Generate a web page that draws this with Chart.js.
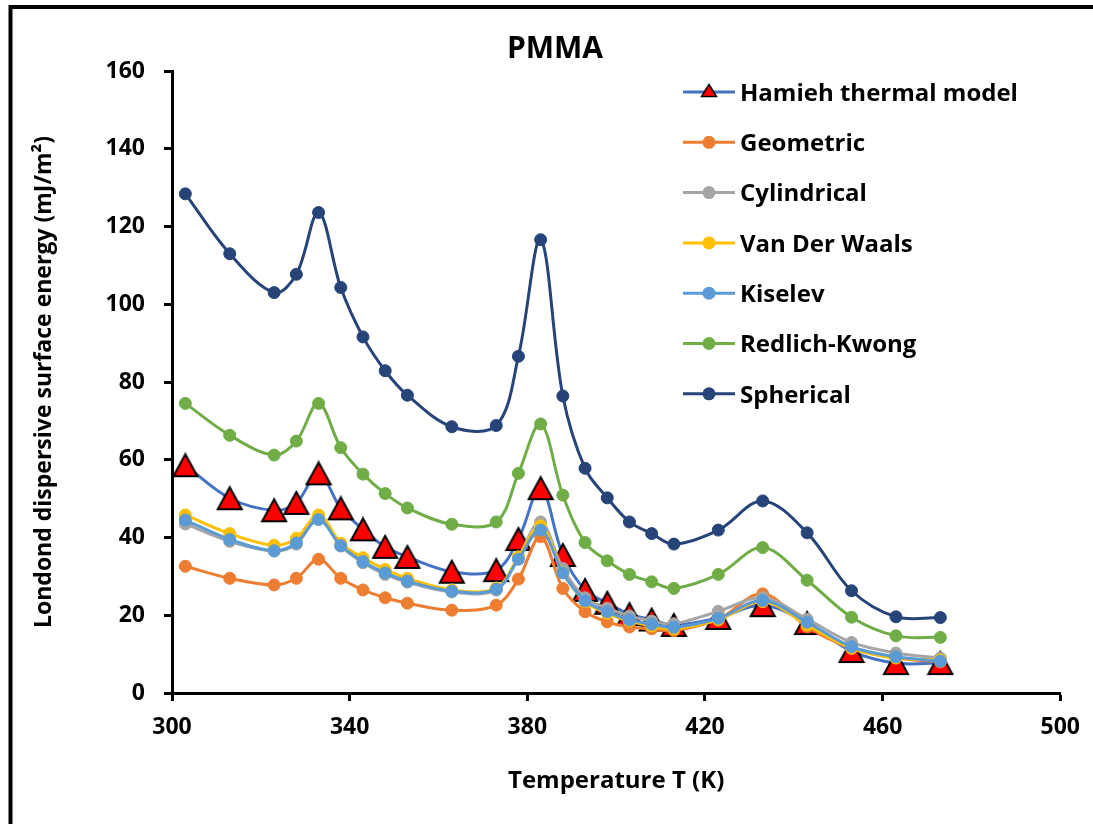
<!DOCTYPE html>
<html><head><meta charset="utf-8">
<script src="https://cdn.jsdelivr.net/npm/chart.js@4.4.1/dist/chart.umd.min.js"></script>
<style>html,body{margin:0;padding:0;background:#fff;} #wrap{width:1093px;height:824px;position:relative;}</style>
</head><body><div id="wrap"><canvas id="c" width="1093" height="824"></canvas></div>
<script>
const temperatures = [303,313,323,328,333,338,343,348,353,363,373,378,383,388,393,398,403,408,413,423,433,443,453,463,473];
const hamieh       = [58.6,50.1,47.0,48.9,56.5,47.5,42.1,37.6,35.0,31.2,31.6,39.6,52.7,35.5,26.5,23.2,20.3,18.9,17.5,19.3,22.6,18.0,10.8,7.7,7.7];
const geometric    = [32.6,29.5,27.8,29.5,34.4,29.5,26.5,24.5,23.1,21.3,22.6,29.3,40.2,26.9,20.9,18.3,17.0,16.5,16.0,19.0,25.5,17.0,11.5,9.0,8.0];
const cylindrical  = [43.5,39.0,36.5,38.3,45.0,37.8,33.5,30.5,28.5,26.0,26.5,35.0,44.0,32.0,24.5,21.8,19.8,18.5,17.8,21.0,24.5,19.0,13.0,10.3,9.0];
const vanDerWaals  = [45.8,41.0,38.0,39.8,45.8,38.5,34.8,31.8,29.5,26.5,27.0,35.0,43.0,31.0,23.5,20.5,18.5,17.2,16.5,18.8,23.5,17.5,11.5,9.0,8.5];
const kiselev      = [44.5,39.5,36.6,38.6,44.6,37.9,33.8,30.9,28.8,26.2,26.7,34.4,41.9,30.9,23.7,20.9,18.8,17.7,16.9,19.2,23.8,18.2,11.9,9.3,8.2];
const redlichKwong = [74.5,66.3,61.2,64.8,74.5,63.1,56.3,51.3,47.6,43.4,44.0,56.5,69.2,50.9,38.7,34.0,30.5,28.6,26.9,30.5,37.4,29.0,19.5,14.7,14.3];
const spherical    = [128.4,113.0,103.0,107.7,123.6,104.3,91.6,82.9,76.6,68.5,68.8,86.6,116.6,76.4,57.8,50.2,44.0,41.0,38.3,41.9,49.4,41.2,26.3,19.6,19.4];

const seriesNames  = ['Hamieh thermal model','Geometric','Cylindrical','Van Der Waals','Kiselev','Redlich-Kwong','Spherical'];
const seriesValues = [hamieh, geometric, cylindrical, vanDerWaals, kiselev, redlichKwong, spherical];
const seriesColors = ['#4472C4','#ED7D31','#A5A5A5','#FFC000','#5B9BD5','#70AD47','#264478'];
const chartTitle = 'PMMA';

const FONT = '"Open Sans", Lato, sans-serif';

function makeTriangle(w, h, lw) {
  const cv = document.createElement('canvas');
  cv.width = w; cv.height = h;
  const c = cv.getContext('2d');
  c.beginPath();
  c.moveTo(w / 2, lw);
  c.lineTo(w - lw, h - lw);
  c.lineTo(lw, h - lw);
  c.closePath();
  c.fillStyle = '#FF0000';
  c.fill();
  c.lineWidth = lw;
  c.strokeStyle = '#000';
  c.lineJoin = 'miter';
  c.stroke();
  return cv;
}
const triMarker = makeTriangle(28, 26, 2);
const triLegend = makeTriangle(18, 15, 1.5);

const datasets = seriesNames.map((name, i) => ({
  label: name,
  data: temperatures.map((t, k) => ({x: t, y: seriesValues[i][k]})),
  borderColor: seriesColors[i],
  backgroundColor: seriesColors[i],
  pointBackgroundColor: seriesColors[i],
  pointBorderColor: seriesColors[i],
  borderWidth: 3,
  pointRadius: i === 0 ? 13 : 6,
  pointStyle: i === 0 ? triMarker : 'circle',
  pointBorderWidth: 1,
  tension: 0.35,
  order: seriesNames.length - i
}));

const frameAndLegend = {
  id: 'frameAndLegend',
  beforeDraw(chart) {
    const ctx = chart.ctx;
    ctx.save();
    ctx.fillStyle = '#fff';
    ctx.fillRect(0, 0, chart.width, chart.height);
    ctx.strokeStyle = '#000';
    ctx.lineWidth = 4;
    ctx.beginPath();
    ctx.moveTo(10.5, chart.height + 5);
    ctx.lineTo(10.5, 7);
    ctx.lineTo(chart.width + 5, 7);
    ctx.stroke();
    ctx.restore();
  },
  afterDraw(chart) {
    const ctx = chart.ctx;
    ctx.save();
    ctx.fillStyle = '#000';
    ctx.font = 'bold 30px ' + FONT;
    ctx.textAlign = 'center';
    ctx.textBaseline = 'middle';
    ctx.fillText(chartTitle, 555, 49);
    seriesNames.forEach((name, i) => {
      const y = 92 + i * 50.3;
      ctx.strokeStyle = seriesColors[i];
      ctx.lineWidth = 3;
      ctx.beginPath();
      ctx.moveTo(683, y);
      ctx.lineTo(735, y);
      ctx.stroke();
      if (i === 0) {
        ctx.drawImage(triLegend, 709 - 9, y - 9);
      } else {
        ctx.fillStyle = seriesColors[i];
        ctx.beginPath();
        ctx.arc(709, y, 6.5, 0, Math.PI * 2);
        ctx.fill();
      }
      ctx.fillStyle = '#000';
      ctx.font = 'bold 24px ' + FONT;
      ctx.textBaseline = 'middle';
      ctx.textAlign = 'left';
      ctx.fillText(name, 740, y + 2);
    });
    ctx.restore();
  }
};

new Chart(document.getElementById('c'), {
  type: 'line',
  data: { datasets },
  plugins: [frameAndLegend],
  options: {
    responsive: false,
    animation: false,
    layout: { padding: { left: 0, right: 32, top: 71, bottom: 0 } },
    plugins: {
      legend: { display: false },
      tooltip: { enabled: false },
      title: { display: false }
    },
    scales: {
      x: {
        type: 'linear',
        min: 300, max: 500,
        afterFit(s) { s.height = 131; },
        ticks: { stepSize: 40, color: '#000', font: { family: FONT, size: 23, weight: 'bold' }, padding: 13, maxRotation: 0 },
        grid: { display: true, drawOnChartArea: false, drawTicks: true, tickLength: 8, tickWidth: 3, tickColor: '#000' },
        border: { display: true, color: '#000', width: 3 },
        title: { display: true, text: 'Temperature T (K)', color: '#000', font: { family: FONT, size: 24, weight: 'bold' }, padding: { bottom: 28 } }
      },
      y: {
        min: 0, max: 160,
        afterFit(s) { s.width = 172; },
        ticks: { stepSize: 20, color: '#000', font: { family: FONT, size: 23, weight: 'bold' }, padding: 19 },
        grid: { display: true, drawOnChartArea: false, drawTicks: true, tickLength: 8, tickWidth: 3, tickColor: '#000' },
        border: { display: true, color: '#000', width: 3 },
        title: { display: true, text: 'Londond dispersive surface energy (mJ/m²)', color: '#000', font: { family: FONT, size: 23, weight: 'bold' }, padding: { top: 31 } }
      }
    }
  }
});
</script></body></html>
